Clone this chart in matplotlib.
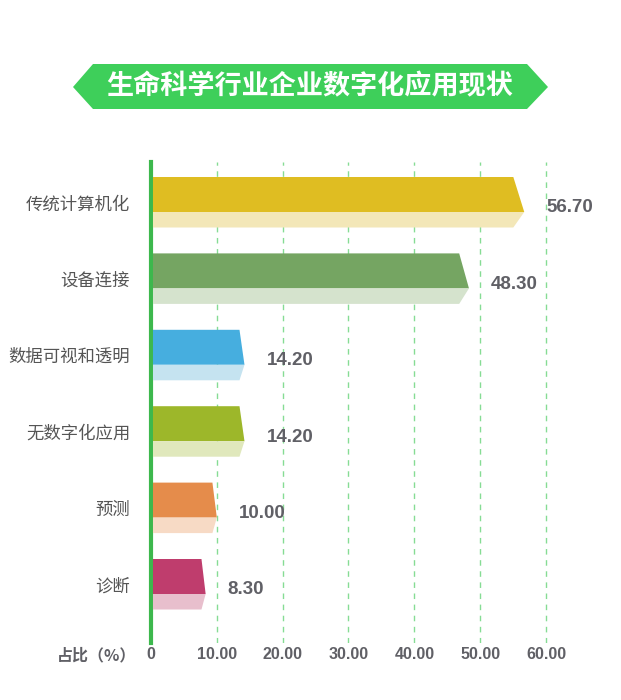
import matplotlib
matplotlib.use('Agg')
import matplotlib.pyplot as plt
from matplotlib.patches import Polygon

plt.rcParams['font.family'] = ['Noto Sans CJK SC', 'DejaVu Sans']

# data
categories = ['传统计算机化', '设备连接', '数据可视和透明', '无数字化应用', '预测', '诊断']
values = [56.70, 48.30, 14.20, 14.20, 10.00, 8.30]
dark_colors = ['#dfbd22', '#75a562', '#46aedf', '#9db72a', '#e58c4b', '#bf3d6d']
light_colors = ['#f3e7b8', '#d5e3cd', '#c5e3f0', '#e0e8bc', '#f7dac5', '#e8bfcd']
xticks = [0, 10, 20, 30, 40, 50, 60]
xtick_labels = ['0', '10.00', '20.00', '30.00', '40.00', '50.00', '60.00']
title = '生命科学行业企业数字化应用现状'
xlabel = '占比（%）'

W, H = 621, 700
PX = 6.583          # pixels per 1 unit of x
ROW = 76.4          # pixels per row
fig = plt.figure(figsize=(W / 100, H / 100), dpi=100)

# axes placed in pixel terms: left edge = value 0
ax_left, ax_right, ax_top, ax_bot = 151, 605, 162, 643
ax = fig.add_axes([ax_left / W, 1 - ax_bot / H, (ax_right - ax_left) / W, (ax_bot - ax_top) / H])
ax.set_xlim(0, (ax_right - ax_left) / PX)
# row i: boundary between dark & light faces at 212 + ROW*i px
ax.set_ylim((ax_bot - 212) / ROW, (ax_top - 212) / ROW)

hd = 35 / ROW       # dark face height
hl = 15.5 / ROW     # light face height
for i, (v, dc, lc) in enumerate(zip(values, dark_colors, light_colors)):
    s = min(11, 3 + v * 0.14) / PX
    x0 = 0.3
    ax.add_patch(Polygon([(x0, i - hd), (v - s, i - hd), (v, i), (x0, i)],
                         closed=True, facecolor=dc, edgecolor='none', zorder=3))
    ax.add_patch(Polygon([(x0, i), (v, i), (v - s, i + hl), (x0, i + hl)],
                         closed=True, facecolor=lc, edgecolor='none', zorder=3))
    ax.text(v + 22 / PX, i - 4 / ROW, '%.2f' % v, ha='left', va='center',
            fontsize=13.5, fontweight='bold', color='#606066',
            family=['Liberation Sans', 'DejaVu Sans'], zorder=4)

for t in xticks[1:]:
    ax.axvline(t, color='#86dc94', lw=1.0, ls=(0, (4, 4)), zorder=1)

ax.set_xticks(xticks)
ax.set_xticklabels(xtick_labels, fontsize=11.5, fontweight='bold', color='#606066',
                   family=['Liberation Sans', 'DejaVu Sans'])
centers = [i - (hd - hl) / 2 for i in range(len(categories))]
ax.set_yticks(centers)
ax.set_yticklabels(categories, fontsize=12.5, color='#555555')
ax.tick_params(axis='x', length=0, pad=3)
ax.tick_params(axis='y', length=0, pad=15)

for side in ['top', 'right', 'bottom']:
    ax.spines[side].set_visible(False)
ax.spines['left'].set_color('#3db84d')
ax.spines['left'].set_linewidth(3)

fig.text(97 / W, 1 - 655 / H, xlabel, ha='center', va='center', fontsize=11.5,
         fontweight='bold', color='#606066')

# title banner
bx = [73, 93, 527, 548, 527, 93]
by = [87, 64, 64, 87, 109, 109]
banner = Polygon([(x / W, 1 - y / H) for x, y in zip(bx, by)], closed=True,
                 transform=fig.transFigure, facecolor='#3ecf5a', edgecolor='none')
fig.patches.append(banner)
fig.text(310 / W, 1 - 86 / H, title, ha='center', va='center', fontsize=19.5,
         fontweight='bold', color='white')

fig.savefig('out.png', dpi=100)
